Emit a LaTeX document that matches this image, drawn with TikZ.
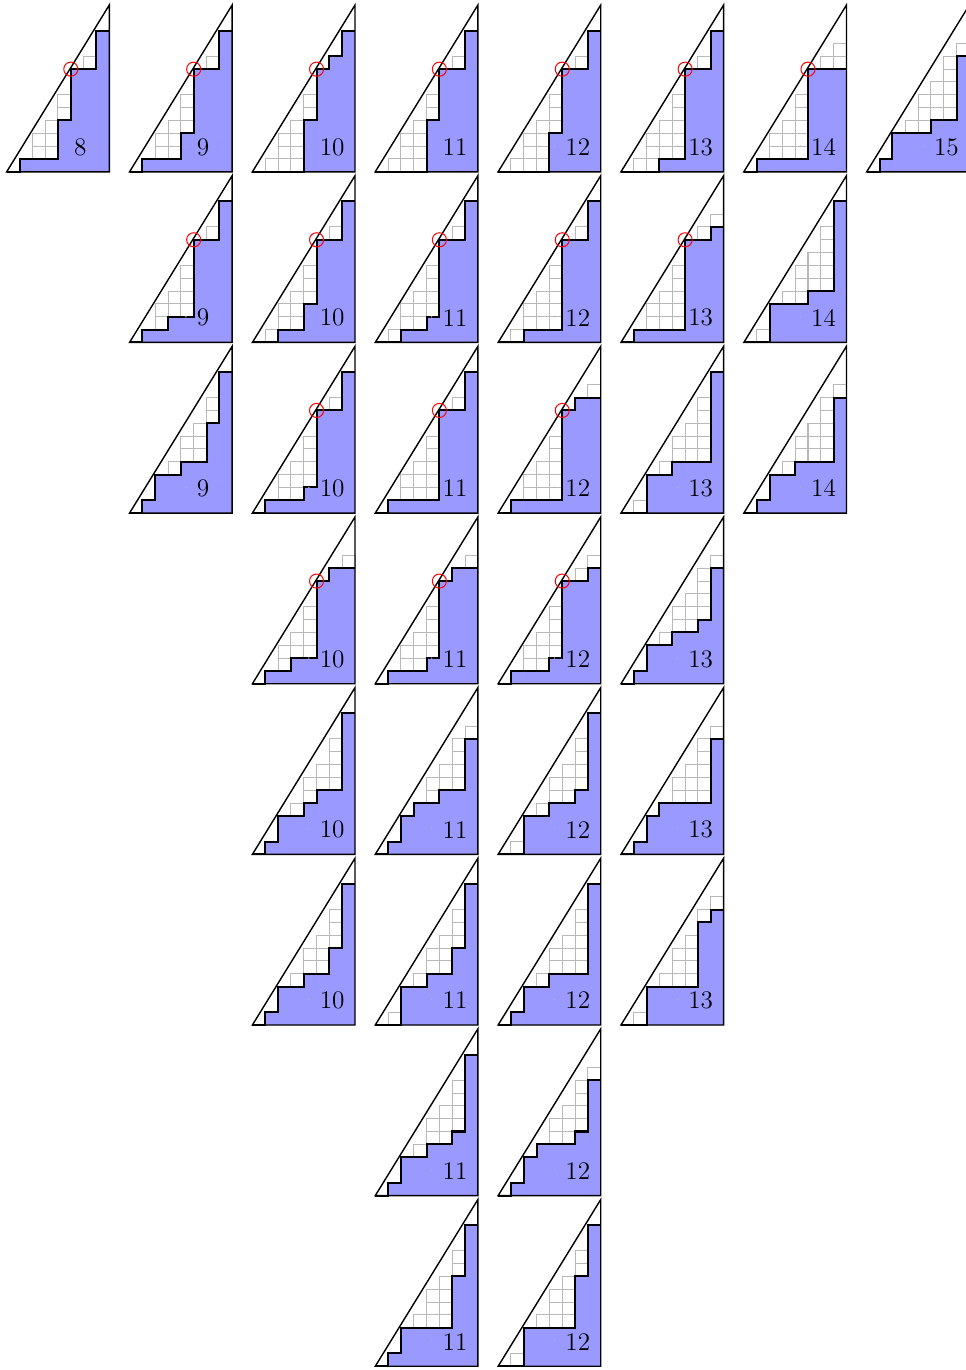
\documentclass[tikz,border=0pt]{standalone}

\definecolor{pathblue}{RGB}{153,153,255}

% one (8,13) path: #1 column, #2 row, #3 column heights, #4 number
\newcommand{\dyckpic}[4]{%
  \begin{scope}[shift={({#1*9.576},{-#2*13.30})}]
    \fill[area] (0,0)
      \foreach \h [count=\i from 0] in {#3} { -- (\i,\h) -- ({\i+1},\h) }
      -- (8,0) -- cycle;
    \foreach \h [count=\i from 0] in {#3} {
      \pgfmathtruncatemacro{\ctop}{floor(1.5*\i)-1}
      \ifnum\h>\ctop\else
        \foreach \j in {\h,...,\ctop} { \draw[cell] (\i,\j) rectangle ++(1,1); }
      \fi
    }
    \draw[frame] (0,0) -- (8,13) -- (8,0) -- cycle;
    \draw[lattice] (0,0)
      \foreach \h [count=\i from 0] in {#3} { -- (\i,\h) -- ({\i+1},\h) };
    \foreach \h [count=\i from 0] in {#3} {
      \ifnum\i=5 \ifnum\h=8 \draw[hit] (5,8) circle (0.55); \fi\fi
    }
    \fill[speck] (4.4,2.0) circle (0.06);
    \node[num] (n-#1-#2) at (5.22,1.92) {#4};
  \end{scope}}

\begin{document}
\begin{tikzpicture}[
  x=6.4pt, y=6.4pt,
  area/.style={fill=pathblue},
  cell/.style={draw=gray!55, line width=0.5pt},
  frame/.style={line width=0.7pt},
  lattice/.style={line width=1pt},
  hit/.style={draw=red, line width=0.5pt},
  speck/.style={fill=gray!60},
  num/.style={anchor=west, inner sep=0pt, font=\fontsize{12.6}{15}\selectfont}
]

\useasboundingbox (-0.52,-93.39) rectangle (74.77,13.39);

% area 8
\dyckpic{0}{0}{0,1,1,1,4,8,8,11}{8}
% area 9
\dyckpic{1}{0}{0,1,1,1,3,8,8,11}{9}
\dyckpic{1}{1}{0,1,1,2,2,8,8,11}{9}
\dyckpic{1}{2}{0,1,3,3,4,4,7,11}{9}
% area 10
\dyckpic{2}{0}{0,0,0,0,4,8,9,11}{10}
\dyckpic{2}{1}{0,0,1,1,3,8,8,11}{10}
\dyckpic{2}{2}{0,1,1,1,2,8,8,11}{10}
\dyckpic{2}{3}{0,1,1,2,2,8,9,9}{10}
\dyckpic{2}{4}{0,1,3,3,4,5,5,11}{10}
\dyckpic{2}{5}{0,1,3,3,4,4,6,11}{10}
% area 11
\dyckpic{3}{0}{0,0,0,0,4,8,8,11}{11}
\dyckpic{3}{1}{0,0,1,1,2,8,8,11}{11}
\dyckpic{3}{2}{0,1,1,1,1,8,8,11}{11}
\dyckpic{3}{3}{0,1,1,1,2,8,9,9}{11}
\dyckpic{3}{4}{0,1,3,4,4,5,5,9}{11}
\dyckpic{3}{5}{0,0,3,3,4,4,6,11}{11}
\dyckpic{3}{6}{0,1,3,3,4,4,5,11}{11}
\dyckpic{3}{7}{0,1,3,3,3,3,7,11}{11}
% area 12
\dyckpic{4}{0}{0,0,0,0,3,8,8,11}{12}
\dyckpic{4}{1}{0,0,1,1,1,8,8,11}{12}
\dyckpic{4}{2}{0,1,1,1,1,8,9,9}{12}
\dyckpic{4}{3}{0,1,1,1,2,8,8,9}{12}
\dyckpic{4}{4}{0,0,3,3,4,4,5,11}{12}
\dyckpic{4}{5}{0,1,3,3,4,4,4,11}{12}
\dyckpic{4}{6}{0,1,3,4,4,4,5,9}{12}
\dyckpic{4}{7}{0,0,3,3,3,3,7,11}{12}
% area 13
\dyckpic{5}{0}{0,0,0,1,1,8,8,11}{13}
\dyckpic{5}{1}{0,1,1,1,1,8,8,9}{13}
\dyckpic{5}{2}{0,0,3,3,4,4,4,11}{13}
\dyckpic{5}{3}{0,1,3,3,4,4,5,9}{13}
\dyckpic{5}{4}{0,1,3,4,4,4,4,9}{13}
\dyckpic{5}{5}{0,0,3,3,3,3,8,9}{13}
% area 14
\dyckpic{6}{0}{0,1,1,1,1,8,8,8}{14}
\dyckpic{6}{1}{0,0,3,3,3,4,4,11}{14}
\dyckpic{6}{2}{0,1,3,3,4,4,4,9}{14}
% area 15
\dyckpic{7}{0}{0,1,3,3,3,4,4,9}{15}

\end{tikzpicture}
\end{document}
